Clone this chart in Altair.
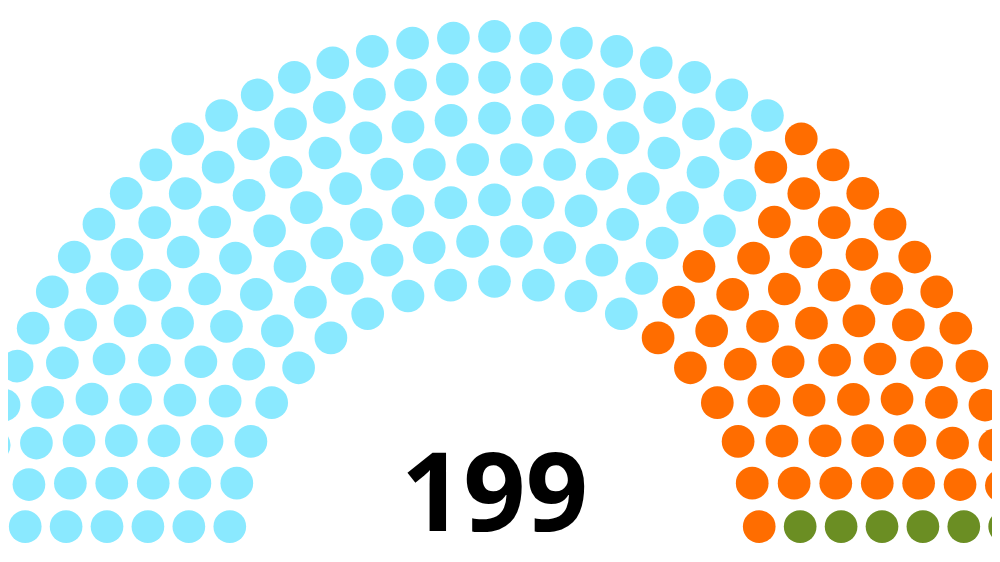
import math
import altair as alt
import pandas as pd

# Party data (seats, assigned left to right)
parties = ["Party A", "Party B", "Party C"]
seats = [138, 55, 6]
colors = ["#8AE9FF", "#FF6D00", "#6B8E23"]


def rows_for(nrows):
    rad = 1 / (4 * nrows - 2)
    return [int(math.pi * (0.5 + 2 * r * rad) / (2 * rad)) for r in range(nrows)]


def seat_centers(nseats):
    nrows = 1
    while sum(rows_for(nrows)) < nseats:
        nrows += 1
    rad = 1 / (4 * nrows - 2)
    maxed = rows_for(nrows)
    ratio = nseats / sum(maxed)
    pos = []
    for r in range(nrows):
        n = nseats - len(pos) if r == nrows - 1 else round(ratio * maxed[r])
        R = 0.5 + 2 * r * rad
        if n == 1:
            pos.append((math.pi / 2, 0.0, R))
            continue
        m = math.asin(rad / R)
        inc = (math.pi - 2 * m) / (n - 1)
        for s in range(n):
            a = m + s * inc
            pos.append((a, R * math.cos(a), R * math.sin(a)))
    pos.sort(key=lambda p: p[0], reverse=True)
    return pos


total = sum(seats)
centers = seat_centers(total)
labels = []
for p, n in zip(parties, seats):
    labels += [p] * n
seat_df = pd.DataFrame({
    "x": [c[1] for c in centers],
    "y": [c[2] for c in centers],
    "party": labels,
})
text_df = pd.DataFrame({"x": [0.0], "y": [0.03], "label": [str(total)]})

xs = alt.Scale(domain=[-0.9162, 0.9369], nice=False, zero=False)
ys = alt.Scale(domain=[-0.01318, 1.0151], nice=False, zero=False)

dots = alt.Chart(seat_df).mark_circle(opacity=1, size=1069).encode(
    x=alt.X("x:Q", scale=xs, axis=None),
    y=alt.Y("y:Q", scale=ys, axis=None),
    color=alt.Color("party:N", scale=alt.Scale(domain=parties, range=colors), legend=None),
)

txt = alt.Chart(text_df).mark_text(
    font="Open Sans", fontWeight="bold", fontSize=109,
    align="center", baseline="alphabetic", color="#000000",
).encode(
    x=alt.X("x:Q", scale=xs, axis=None),
    y=alt.Y("y:Q", scale=ys, axis=None),
    text="label:N",
)

chart = alt.layer(dots, txt).properties(
    width=984, height=546, padding=0, autosize="none", background="white"
).configure_view(stroke=None)

chart.save("out.html", embed_options={"renderer": "svg", "actions": False})
